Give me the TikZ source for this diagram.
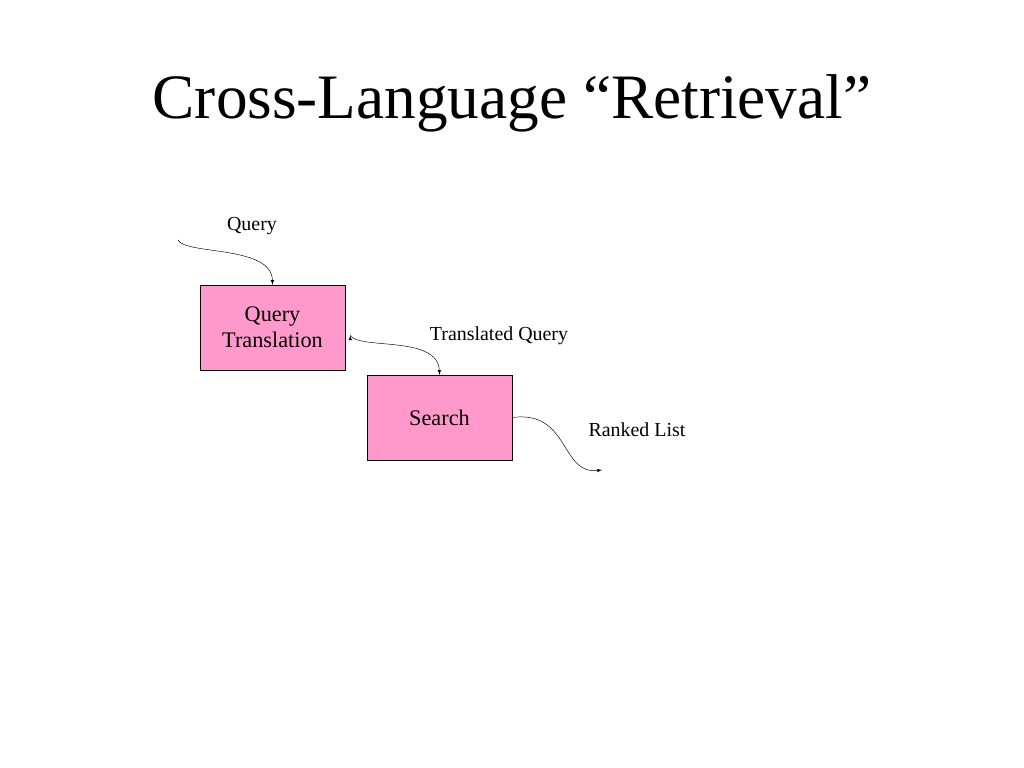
\documentclass[tikz,border=0pt]{standalone}
\usepackage{fontspec}
\setmainfont{Liberation Serif}
\usetikzlibrary{positioning}
\definecolor{boxpink}{HTML}{FF99CC}
\tikzset{stage/.style={draw, fill=boxpink, minimum width=4.35cm, minimum height=2.55cm, align=center, font=\fontsize{19}{22}\selectfont},
  lbl/.style={font=\fontsize{17}{20}\selectfont},
  flow/.style={->, >=latex, thin}}
\begin{document}
\begin{tikzpicture}[x=0.03cm, y=-0.03cm]
  \useasboundingbox (0,0) rectangle (1024,768);
  \node at (512,103) (title) {\fontsize{54}{60}\selectfont Cross-Language “Retrieval”};

  \node[stage] at (272.5,327.5) (qt) {Query\\Translation};
  \node[stage] at (439.5,417.5) (search) {Search};

  \node[lbl] at (252,226) (q) {Query};
  \node[lbl] at (499,336) (tq) {Translated Query};
  \node[lbl] at (637,430) (rl) {Ranked List};

  \coordinate (qin) at (178,240);
  \coordinate (rlout) at (602,470);

  \draw[flow] (qin) .. controls (185,255) and (272,245) .. (qt.north);
  \draw[flow] (qt.east) ++(5,8) coordinate (qtout);
  \draw[flow] (qtout) .. controls (360,350) and (438,335) .. (search.north);
  \draw[flow] (search.east) .. controls (570,410) and (560,475) .. (rlout);
\end{tikzpicture}
\end{document}
